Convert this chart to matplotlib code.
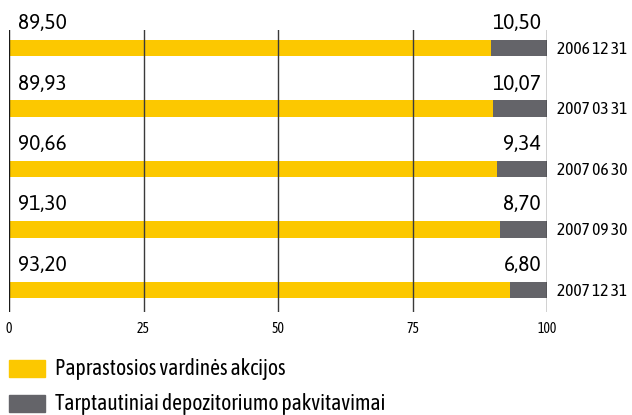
import matplotlib
matplotlib.use('Agg')
import matplotlib.pyplot as plt
from matplotlib.patches import Rectangle

dates = ['2006 12 31', '2007 03 31', '2007 06 30', '2007 09 30', '2007 12 31']
ordinary = [89.50, 89.93, 90.66, 91.30, 93.20]
gdr = [10.50, 10.07, 9.34, 8.70, 6.80]
ticks = [0, 25, 50, 75, 100]
legend_labels = ['Paprastosios vardinės akcijos', 'Tarptautiniai depozitoriumo pakvitavimai']

yellow = '#fcc800'
grey = '#646469'
narrow = ['Asap Condensed', 'Archivo Narrow', 'DejaVu Sans']
regular = ['Asap', 'Open Sans', 'DejaVu Sans']

W, H = 632, 415
fig = plt.figure(figsize=(W / 100, H / 100), dpi=100)
# axes: x 9..547 px, y 30..312 px
ax = fig.add_axes([9 / W, 1 - 312 / H, 538 / W, 282 / H])

pos = list(range(len(dates)))
ax.barh(pos, ordinary, height=0.28, color=yellow, zorder=1)
ax.barh(pos, gdr, left=ordinary, height=0.28, color=grey, zorder=1)

for t in ticks:
    c = '#1a1a1a' if t in (0, 100) else '#3a3a3a'
    ax.axvline(t, color=c, lw=1.0, zorder=3)

ax.set_xlim(0, 100)
ax.set_ylim(4.364, -0.298)
ax.set_yticks([])
ax.set_xticks(ticks)
ax.set_xticklabels([str(t) for t in ticks], family=narrow, fontsize=10)
ax.tick_params(axis='x', length=0, pad=7)
for s in ax.spines.values():
    s.set_visible(False)

for i in pos:
    ax.text(1.7, i - 0.314, f'{ordinary[i]:.2f}'.replace('.', ','),
            family=regular, fontsize=15, va='baseline', ha='left')
    ax.text(98.9, i - 0.314, f'{gdr[i]:.2f}'.replace('.', ','),
            family=regular, fontsize=15, va='baseline', ha='right')
    ax.text(101.9, i + 0.02, dates[i], family=narrow, fontsize=12.5,
            va='center', ha='left', clip_on=False)

# legend
for k, (lab, col) in enumerate(zip(legend_labels, [yellow, grey])):
    y0 = 360 + k * 35
    fig.add_artist(Rectangle((9 / W, 1 - (y0 + 17) / H), 36 / W, 17 / H,
                             transform=fig.transFigure, color=col))
    fig.text(55 / W, 1 - (y0 + 8.5) / H, lab, family=narrow, fontsize=15.5, va='center')

plt.savefig('out.png', dpi=100)
